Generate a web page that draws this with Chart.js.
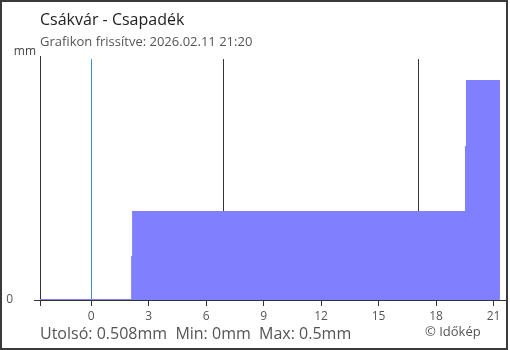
<!DOCTYPE html>
<html>
<head>
<meta charset="utf-8">
<script src="https://cdn.jsdelivr.net/npm/chart.js@4/dist/chart.umd.min.js"></script>
<style>
html,body{margin:0;padding:0;background:#fff;}
#wrap{position:relative;width:510px;height:350px;}
</style>
</head>
<body>
<div id="wrap"><canvas id="c" width="510" height="350"></canvas></div>
<script>
// ---- data ----
const titleText = 'Csákvár - Csapadék';
const subtitleText = 'Grafikon frissítve: 2026.02.11 21:20';
const footerText = 'Utolsó: 0.508mm  Min: 0mm  Max: 0.5mm';
const creditText = '© Időkép';
const yUnit = 'mm';
// hours relative to midnight (previous evening negative)
const hours  = [-2.667, 2.14, 2.19, 19.56, 19.61, 21.333];
const precip = [0, 0.1, 0.204, 0.355, 0.508, 0.508];
const xTickValues = [0, 3, 6, 9, 12, 15, 18, 21];
const yTickValues = [0];
const midnightHour = [0];
const sunHours = [6.88, 17.06]; // sunrise, sunset
const xMin = -2.667, xMax = 21.7;
const yMax = 0.566;

const FONT = '"Open Sans", "Noto Sans", sans-serif';

const overlay = {
  id: 'overlay',
  beforeDatasetsDraw(chart) {
    const ctx = chart.ctx, x = chart.scales.x, y = chart.scales.y;
    const top = y.getPixelForValue(Math.max(...precip) * 1.1);
    const bot = y.getPixelForValue(0);
    ctx.save();
    ctx.lineWidth = 1;
    midnightHour.forEach(h => {
      const px = Math.round(x.getPixelForValue(h)) + 0.5;
      ctx.strokeStyle = '#3b8fd0';
      ctx.beginPath(); ctx.moveTo(px, top); ctx.lineTo(px, bot); ctx.stroke();
    });
    sunHours.forEach(h => {
      const px = Math.round(x.getPixelForValue(h)) + 0.5;
      ctx.strokeStyle = '#333';
      ctx.beginPath(); ctx.moveTo(px, top); ctx.lineTo(px, bot); ctx.stroke();
    });
    ctx.restore();
  },
  afterDraw(chart) {
    const ctx = chart.ctx;
    ctx.save();
    ctx.textBaseline = 'alphabetic';
    ctx.textAlign = 'left';
    ctx.fillStyle = '#222';
    ctx.font = '16px ' + FONT;
    ctx.fillText(titleText, 40, 25);
    ctx.fillStyle = '#555';
    ctx.font = '13px ' + FONT;
    ctx.fillText(subtitleText, 40, 46);
    ctx.font = '12px ' + FONT;
    ctx.textAlign = 'right';
    ctx.fillStyle = '#444';
    ctx.fillText(yUnit, 36, 55);
    ctx.textAlign = 'left';
    ctx.fillStyle = '#555';
    ctx.font = '16px ' + FONT;
    ctx.fillText(footerText, 40, 339);
    ctx.font = '13px ' + FONT;
    ctx.fillText(creditText, 425, 335.5);
    ctx.strokeStyle = '#3a3a3a';
    ctx.lineWidth = 2;
    ctx.strokeRect(1, 1, 506, 348);
    ctx.restore();
  }
};

new Chart(document.getElementById('c'), {
  type: 'line',
  data: {
    datasets: [{
      data: hours.map((h, i) => ({x: h, y: precip[i]})),
      stepped: 'before',
      fill: 'origin',
      backgroundColor: '#8080ff',
      borderColor: '#8080ff',
      borderWidth: 2,
      pointRadius: 0
    }]
  },
  options: {
    responsive: false,
    animation: false,
    layout: {padding: {top: 56, right: 3, bottom: 0, left: 0}},
    plugins: {legend: {display: false}, tooltip: {enabled: false}},
    scales: {
      x: {
        type: 'linear', min: xMin, max: xMax,
        afterBuildTicks(s) { s.ticks = [{value: xMin}].concat(xTickValues.map(v => ({value: v}))); },
        afterFit(s) { s.height = 50; },
        ticks: {
          autoSkip: false, maxRotation: 0, padding: 3,
          color: '#555', font: {family: FONT, size: 12},
          callback: (v) => v === xMin ? '' : String(v)
        },
        grid: {drawOnChartArea: false, drawTicks: true, tickLength: 6, color: '#333'},
        border: {display: true, color: '#333'}
      },
      y: {
        min: 0, max: yMax,
        afterBuildTicks(s) { s.ticks = yTickValues.map(v => ({value: v})); },
        afterFit(s) { s.width = 40; },
        ticks: {padding: 21, color: '#555', font: {family: FONT, size: 12}},
        grid: {drawOnChartArea: false, drawTicks: true, tickLength: 6, color: '#333'},
        border: {display: true, color: '#333'}
      }
    }
  },
  plugins: [overlay]
});
</script>
</body>
</html>
